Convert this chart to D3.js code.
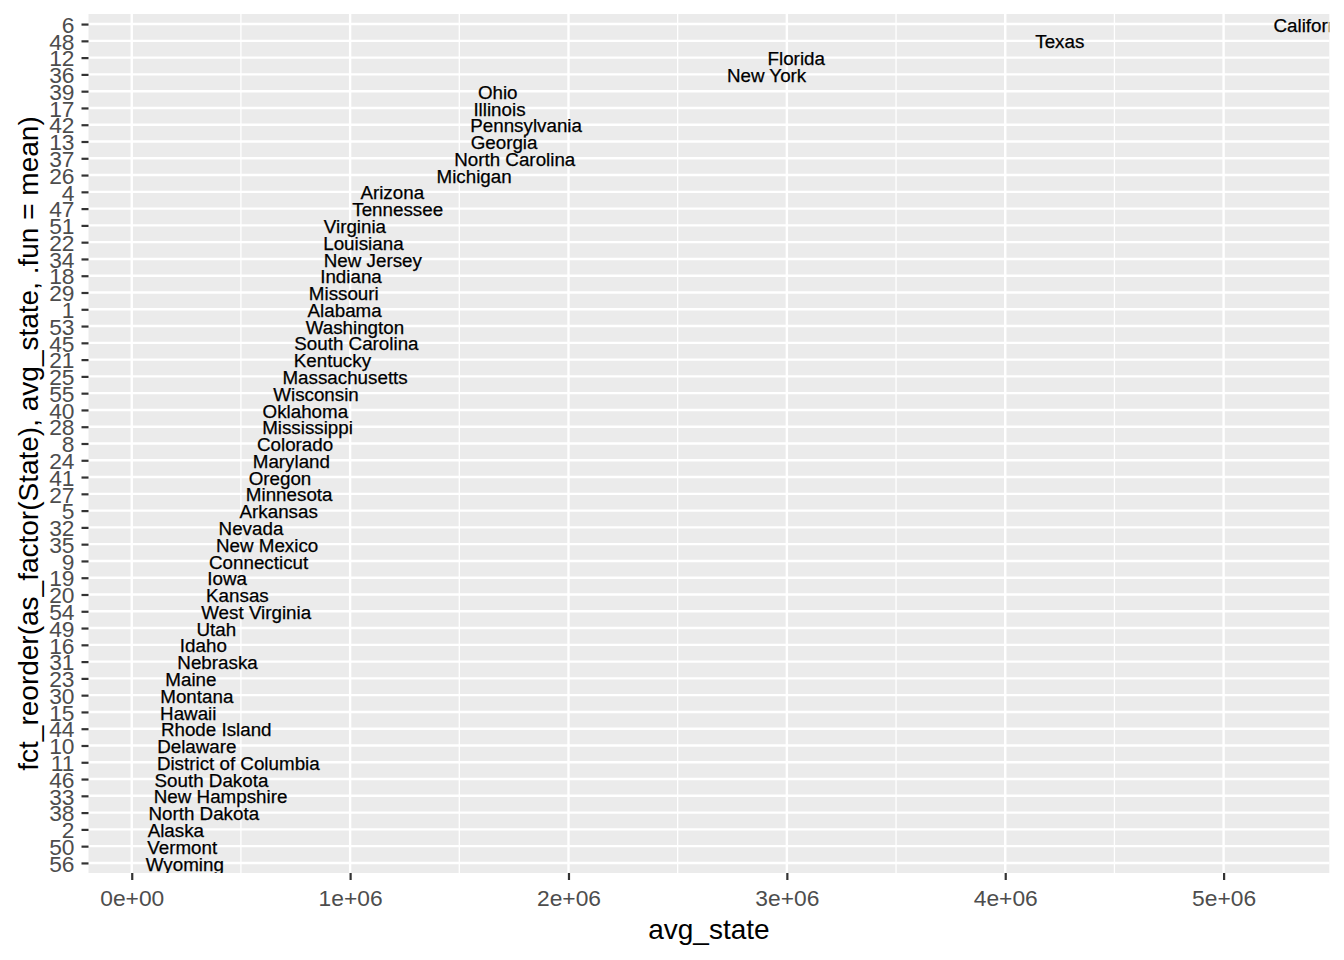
<!DOCTYPE html>
<html>
<head>
<meta charset="utf-8">
<script src="https://cdn.jsdelivr.net/npm/d3@7"></script>
<style>
  body { margin: 0; background: #fff; }
  text { font-family: "Liberation Sans", Arial, sans-serif; }
</style>
</head>
<body>
<div id="chart"></div>
<script>
// factor levels, top to bottom (fct_reorder by mean avg_state)
var stateCodes = ["6","48","12","36","39","17","42","13","37","26","4","47","51","22","34","18","29","1","53","45","21","25","55","40","28","8","24","41","27","5","32","35","9","19","20","54","49","16","31","23","30","15","44","10","11","46","33","38","2","50","56"];
var stateNames = ["California","Texas","Florida","New York","Ohio","Illinois","Pennsylvania","Georgia","North Carolina","Michigan","Arizona","Tennessee","Virginia","Louisiana","New Jersey","Indiana","Missouri","Alabama","Washington","South Carolina","Kentucky","Massachusetts","Wisconsin","Oklahoma","Mississippi","Colorado","Maryland","Oregon","Minnesota","Arkansas","Nevada","New Mexico","Connecticut","Iowa","Kansas","West Virginia","Utah","Idaho","Nebraska","Maine","Montana","Hawaii","Rhode Island","Delaware","District of Columbia","South Dakota","New Hampshire","North Dakota","Alaska","Vermont","Wyoming"];
var avgState = [5410000,4250000,3043000,2907000,1676000,1684000,1806000,1705000,1754000,1568000,1193000,1218000,1022000,1061000,1104000,1004000,971000,975000,1022000,1029000,919000,977000,844000,795000,805000,748000,731000,679000,721000,673000,546000,620000,581000,437000,484000,570000,387000,328000,393000,271000,298000,259000,387000,298000,488000,365000,407000,330000,202000,231000,243000];
var xTicks = [0,1e6,2e6,3e6,4e6,5e6];
var xTickLabels = ["0e+00","1e+06","2e+06","3e+06","4e+06","5e+06"];
var xMinor = [5e5,1.5e6,2.5e6,3.5e6,4.5e6];

var width = 1344, height = 960;
var panel = { left: 88.5, right: 1329.3, top: 14, bottom: 873 };

var svg = d3.select("#chart").append("svg")
  .attr("width", width).attr("height", height)

svg.append("rect").attr("width", width).attr("height", height).attr("fill", "#fff")

var x = d3.scaleLinear().domain([-198000, 5484000]).range([panel.left, panel.right])
var y = d3.scalePoint().domain(stateCodes).range([panel.top, panel.bottom]).padding(0.6)

var data = stateCodes.map(function (c, i) {
  return { code: c, name: stateNames[i], avg: avgState[i] }
})

// panel background
svg.append("rect")
  .attr("x", panel.left).attr("y", panel.top)
  .attr("width", panel.right - panel.left).attr("height", panel.bottom - panel.top)
  .attr("fill", "#EBEBEB")

var grid = svg.append("g")
grid.selectAll(".minor").data(xMinor).enter().append("line")
  .attr("x1", function (d) { return x(d) }).attr("x2", function (d) { return x(d) })
  .attr("y1", panel.top).attr("y2", panel.bottom)
  .attr("stroke", "#fff").attr("stroke-width", 1.3)
grid.selectAll(".majx").data(xTicks).enter().append("line")
  .attr("x1", function (d) { return x(d) }).attr("x2", function (d) { return x(d) })
  .attr("y1", panel.top).attr("y2", panel.bottom)
  .attr("stroke", "#fff").attr("stroke-width", 2.4)
grid.selectAll(".majy").data(stateCodes).enter().append("line")
  .attr("y1", function (d) { return y(d) }).attr("y2", function (d) { return y(d) })
  .attr("x1", panel.left).attr("x2", panel.right)
  .attr("stroke", "#fff").attr("stroke-width", 2.4)

// labels, clipped to panel
svg.append("clipPath").attr("id", "clip").append("rect")
  .attr("x", panel.left).attr("y", panel.top)
  .attr("width", panel.right - panel.left).attr("height", panel.bottom - panel.top)

svg.append("g").attr("clip-path", "url(#clip)")
  .selectAll("text").data(data).enter().append("text")
  .attr("x", function (d) { return x(d.avg) })
  .attr("y", function (d) { return y(d.code) + 7.6 })
  .attr("text-anchor", "middle")
  .attr("font-size", "18.8px")
  .attr("fill", "#000")
  .attr("stroke", "#000").attr("stroke-width", 0.25)
  .text(function (d) { return d.name })

// x axis
var xAxis = d3.axisBottom(x).tickValues(xTicks)
  .tickFormat(function (d, i) { return xTickLabels[i] })
  .tickSize(7).tickPadding(5)
var gx = svg.append("g").attr("transform", "translate(0," + panel.bottom + ")").call(xAxis)
gx.select(".domain").remove()
gx.selectAll("line").attr("stroke", "#333333").attr("stroke-width", 2.2)
gx.selectAll("text").attr("fill", "#4D4D4D").attr("font-size", "22.8px")
  .attr("dy", null).attr("y", 33)

// y axis
var yAxis = d3.axisLeft(y).tickSize(7).tickPadding(6)
var gy = svg.append("g").attr("transform", "translate(" + panel.left + ",0)").call(yAxis)
gy.select(".domain").remove()
gy.selectAll("line").attr("stroke", "#333333").attr("stroke-width", 2.2)
gy.selectAll("text").attr("fill", "#4D4D4D").attr("font-size", "22.8px")
  .attr("dy", "0.36em").attr("x", -14)

// axis titles
svg.append("text")
  .attr("x", (panel.left + panel.right) / 2).attr("y", 939)
  .attr("text-anchor", "middle").attr("font-size", "28px").attr("fill", "#000")
  .text("avg_state")

svg.append("text")
  .attr("transform", "translate(37.5," + (panel.top + panel.bottom) / 2 + ") rotate(-90)")
  .attr("text-anchor", "middle").attr("font-size", "28px").attr("fill", "#000")
  .text("fct_reorder(as_factor(State), avg_state, .fun = mean)")
</script>
</body>
</html>
